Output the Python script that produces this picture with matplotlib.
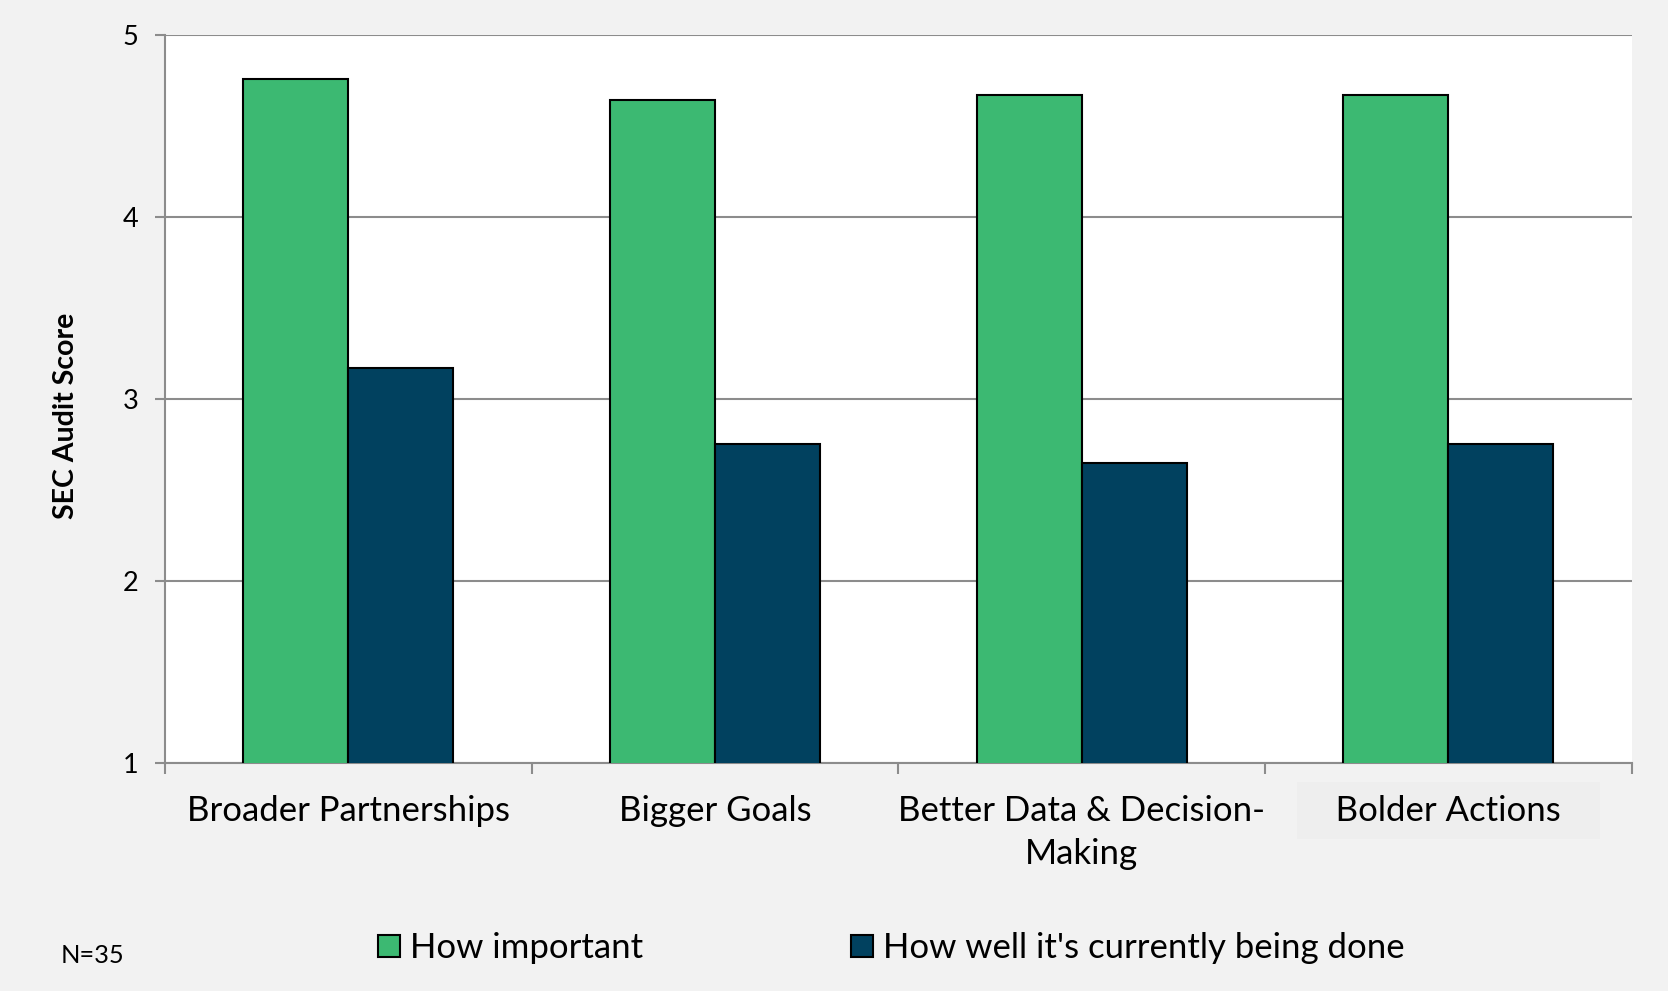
import numpy as np
import matplotlib.pyplot as plt

# Data
categories = ["Broader Partnerships", "Bigger Goals",
              "Better Data & Decision-\nMaking", "Bolder Actions"]
series_names = ["How important", "How well it's currently being done"]
important = [4.76, 4.64, 4.67, 4.67]
current = [3.17, 2.75, 2.65, 2.75]
y_ticks = [1, 2, 3, 4, 5]
sample_note = "N=35"

green = "#3cb972"
navy = "#01415f"
grid_grey = "#8c8c8c"

plt.rcParams["font.family"] = ["Lato", "DejaVu Sans"]

fig = plt.figure(figsize=(16.68, 9.91), dpi=100, facecolor="#f2f2f2")
ax = fig.add_axes([0.0989, 0.2304, 0.8793, 0.7343])
ax.set_facecolor("white")

x = np.arange(len(categories))
bar_w = 0.286
b1 = ax.bar(x - bar_w / 2, important, bar_w, color=green,
            edgecolor="black", linewidth=1.5, zorder=3, label=series_names[0])
b2 = ax.bar(x + bar_w / 2, current, bar_w, color=navy,
            edgecolor="black", linewidth=1.5, zorder=3, label=series_names[1])

ax.set_ylim(1, 5)
ax.set_xlim(-0.5, len(categories) - 0.5)
ax.set_yticks(y_ticks)
ax.yaxis.grid(True, color=grid_grey, linewidth=1.5, zorder=0)
ax.set_axisbelow(True)

for s in ["top", "right"]:
    ax.spines[s].set_visible(False)
for s in ["left", "bottom"]:
    ax.spines[s].set_color(grid_grey)
    ax.spines[s].set_linewidth(1.5)

ax.tick_params(axis="y", which="major", length=7, width=1.5, color=grid_grey,
               labelsize=19.5, pad=12)

# boundary ticks (major) and centred labels (minor)
ax.set_xticks(np.arange(len(categories) + 1) - 0.5)
ax.set_xticklabels([])
ax.tick_params(axis="x", which="major", length=8, width=1.5, color=grid_grey)
ax.set_xticks(x, minor=True)
# last label sits on a slightly darker box in the reference
padded = "   " + categories[-1] + "   "
ax.set_xticklabels(categories[:-1] + [padded], minor=True,
                   fontsize=25, linespacing=1.45)
ax.tick_params(axis="x", which="minor", length=0, pad=23)
ax.get_xticklabels(minor=True)[-1].set_bbox(
    dict(boxstyle="square,pad=0.35", facecolor="#eeeeee", edgecolor="none"))

ax.set_ylabel("SEC Audit Score", fontsize=20.5, fontweight="bold", va="center")
ax.yaxis.set_label_coords(-0.0675, 0.476)

fig.legend(handles=[b1, b2], labels=series_names, loc="center",
           bbox_to_anchor=(0.5345, 0.0434), ncol=2, frameon=False,
           fontsize=25, handlelength=0.61, handleheight=0.61,
           handletextpad=0.3, columnspacing=6.0)

fig.text(0.0366, 0.0363, sample_note, fontsize=18.3, va="center", ha="left")

fig.savefig("out.png", dpi=100, facecolor=fig.get_facecolor())
